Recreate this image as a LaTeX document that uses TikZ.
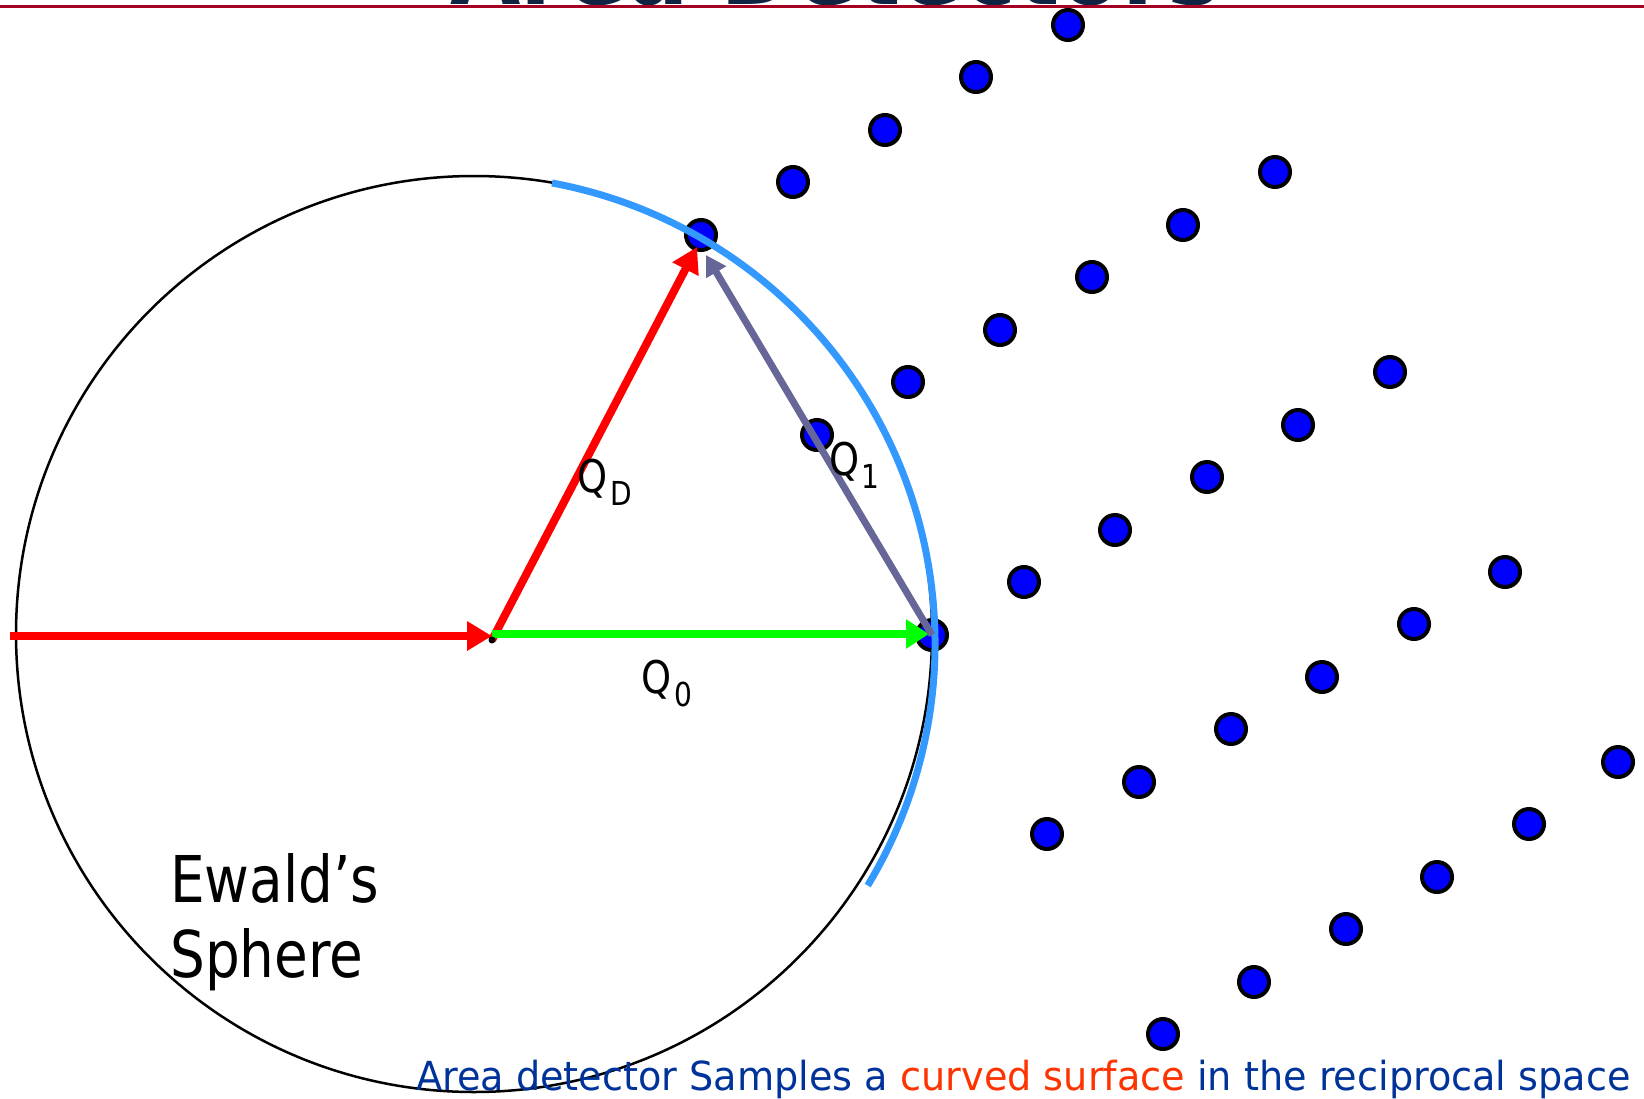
\documentclass[tikz,border=0pt]{standalone}
\usepackage{fontspec}
\setmainfont{DejaVu Sans}
\newfontfamily\tah[FakeStretch=0.85]{DejaVu Sans}
\newfontfamily\verd[FakeStretch=0.955]{DejaVu Sans}
\usetikzlibrary{arrows.meta}
\definecolor{titlenavy}{HTML}{0F2443}
\definecolor{titlered}{HTML}{A50021}
\definecolor{dotblue}{HTML}{0000FF}
\definecolor{arcblue}{HTML}{3399FF}
\definecolor{vecred}{HTML}{FF0000}
\definecolor{vecgreen}{HTML}{00FF00}
\definecolor{vecgrey}{HTML}{666699}
\definecolor{capnavy}{HTML}{003399}
\definecolor{caporange}{HTML}{FF3300}
\tikzset{
  dot/.style={circle, draw=black, fill=dotblue, line width=4pt, minimum size=30pt, inner sep=0pt},
  redvec/.style={draw=vecred, line width=8pt, -{Triangle[length=25pt,width=28pt]}},
  greenvec/.style={draw=vecgreen, line width=7.5pt, -{Triangle[length=23pt,width=28pt]}},
  greyvec/.style={draw=vecgrey, line width=7pt, -{Triangle[length=20pt,width=22pt]}},
  qlabel/.style={anchor=base west, inner sep=0pt, font=\tah\fontsize{45}{45}\selectfont},
  ewald/.style={anchor=base west, inner sep=0pt, font=\tah\fontsize{64.5}{64.5}\selectfont},
}
\newcommand{\qsub}[2]{\kern#1pt\raisebox{-13.5pt}{\fontsize{33}{33}\selectfont #2}}
\begin{document}
\begin{tikzpicture}[x=1pt,y=-1pt]
\useasboundingbox (0,0) rectangle (1644,1098);
\clip (0,0) rectangle (1644,1098);
% cut-off title and rule
\node[anchor=base west, inner sep=0pt, text=titlenavy, font={\tah\bfseries\fontsize{107}{107}\selectfont}] (title) at (450,4) {Area Detectors};
\draw[titlered, line width=3pt] (0,6.5) -- (1644,6.5);
% Ewald sphere
\draw[black, line width=2.5pt] (474,634) circle[radius=458];
% reciprocal lattice points
\foreach \n/\x/\y in {
  a0/701/235, a1/793/182, a2/885/130, a3/976/77, a4/1068/25,
  b0/817/435, b1/908/382, b2/1000/330, b3/1092/277, b4/1183/225, b5/1275/172,
  c0/932/635, c1/1024/582, c2/1115/530, c3/1207/477, c4/1298/425, c5/1390/372,
  d0/1047/834, d1/1139/782, d2/1231/729, d3/1322/677, d4/1414/624, d5/1505/572,
  e0/1163/1034, e1/1254/982, e2/1346/929, e3/1437/877, e4/1529/824, e5/1618/762}
  \node[dot] (\n) at (\x,\y) {};
% detector surface
\draw[arcblue, line width=7pt] (552,183) arc[start angle=-79.5, end angle=31.1, radius=468.4];
% vectors
\coordinate (src) at (10,636);
\coordinate (O) at (492,636);
\coordinate (Ob) at (492,640);
\coordinate (Og) at (492,634);
\coordinate (QDtip) at (697,247);
\coordinate (Q0tip) at (929,634);
\coordinate (Q1tip) at (706,255);
\draw[redvec] (src) -- (O);
\draw[redvec] (Ob) -- (QDtip);
\draw[greenvec] (Og) -- (Q0tip);
\draw[greyvec] (c0.center) -- (Q1tip);
\fill[black] (Ob) circle[radius=3.5];
% labels
\node[qlabel] (qd) at (577,492) {Q\qsub{3}{D}};
\node[qlabel] (q1) at (829,475) {Q\qsub{2}{1}};
\node[qlabel] (q0) at (641,693) {Q\qsub{3}{0}};
\node[ewald] (ew1) at (170,902) {Ewald’s};
\node[ewald] (ew2) at (170,977) {Sphere};
\node[anchor=base west, inner sep=0pt, font={\verd\fontsize{40}{40}\selectfont}, text=capnavy] (cap) at (416,1090)
  {Area detector Samples a \textcolor{caporange}{curved surface} in the reciprocal space};
\end{tikzpicture}
\end{document}
